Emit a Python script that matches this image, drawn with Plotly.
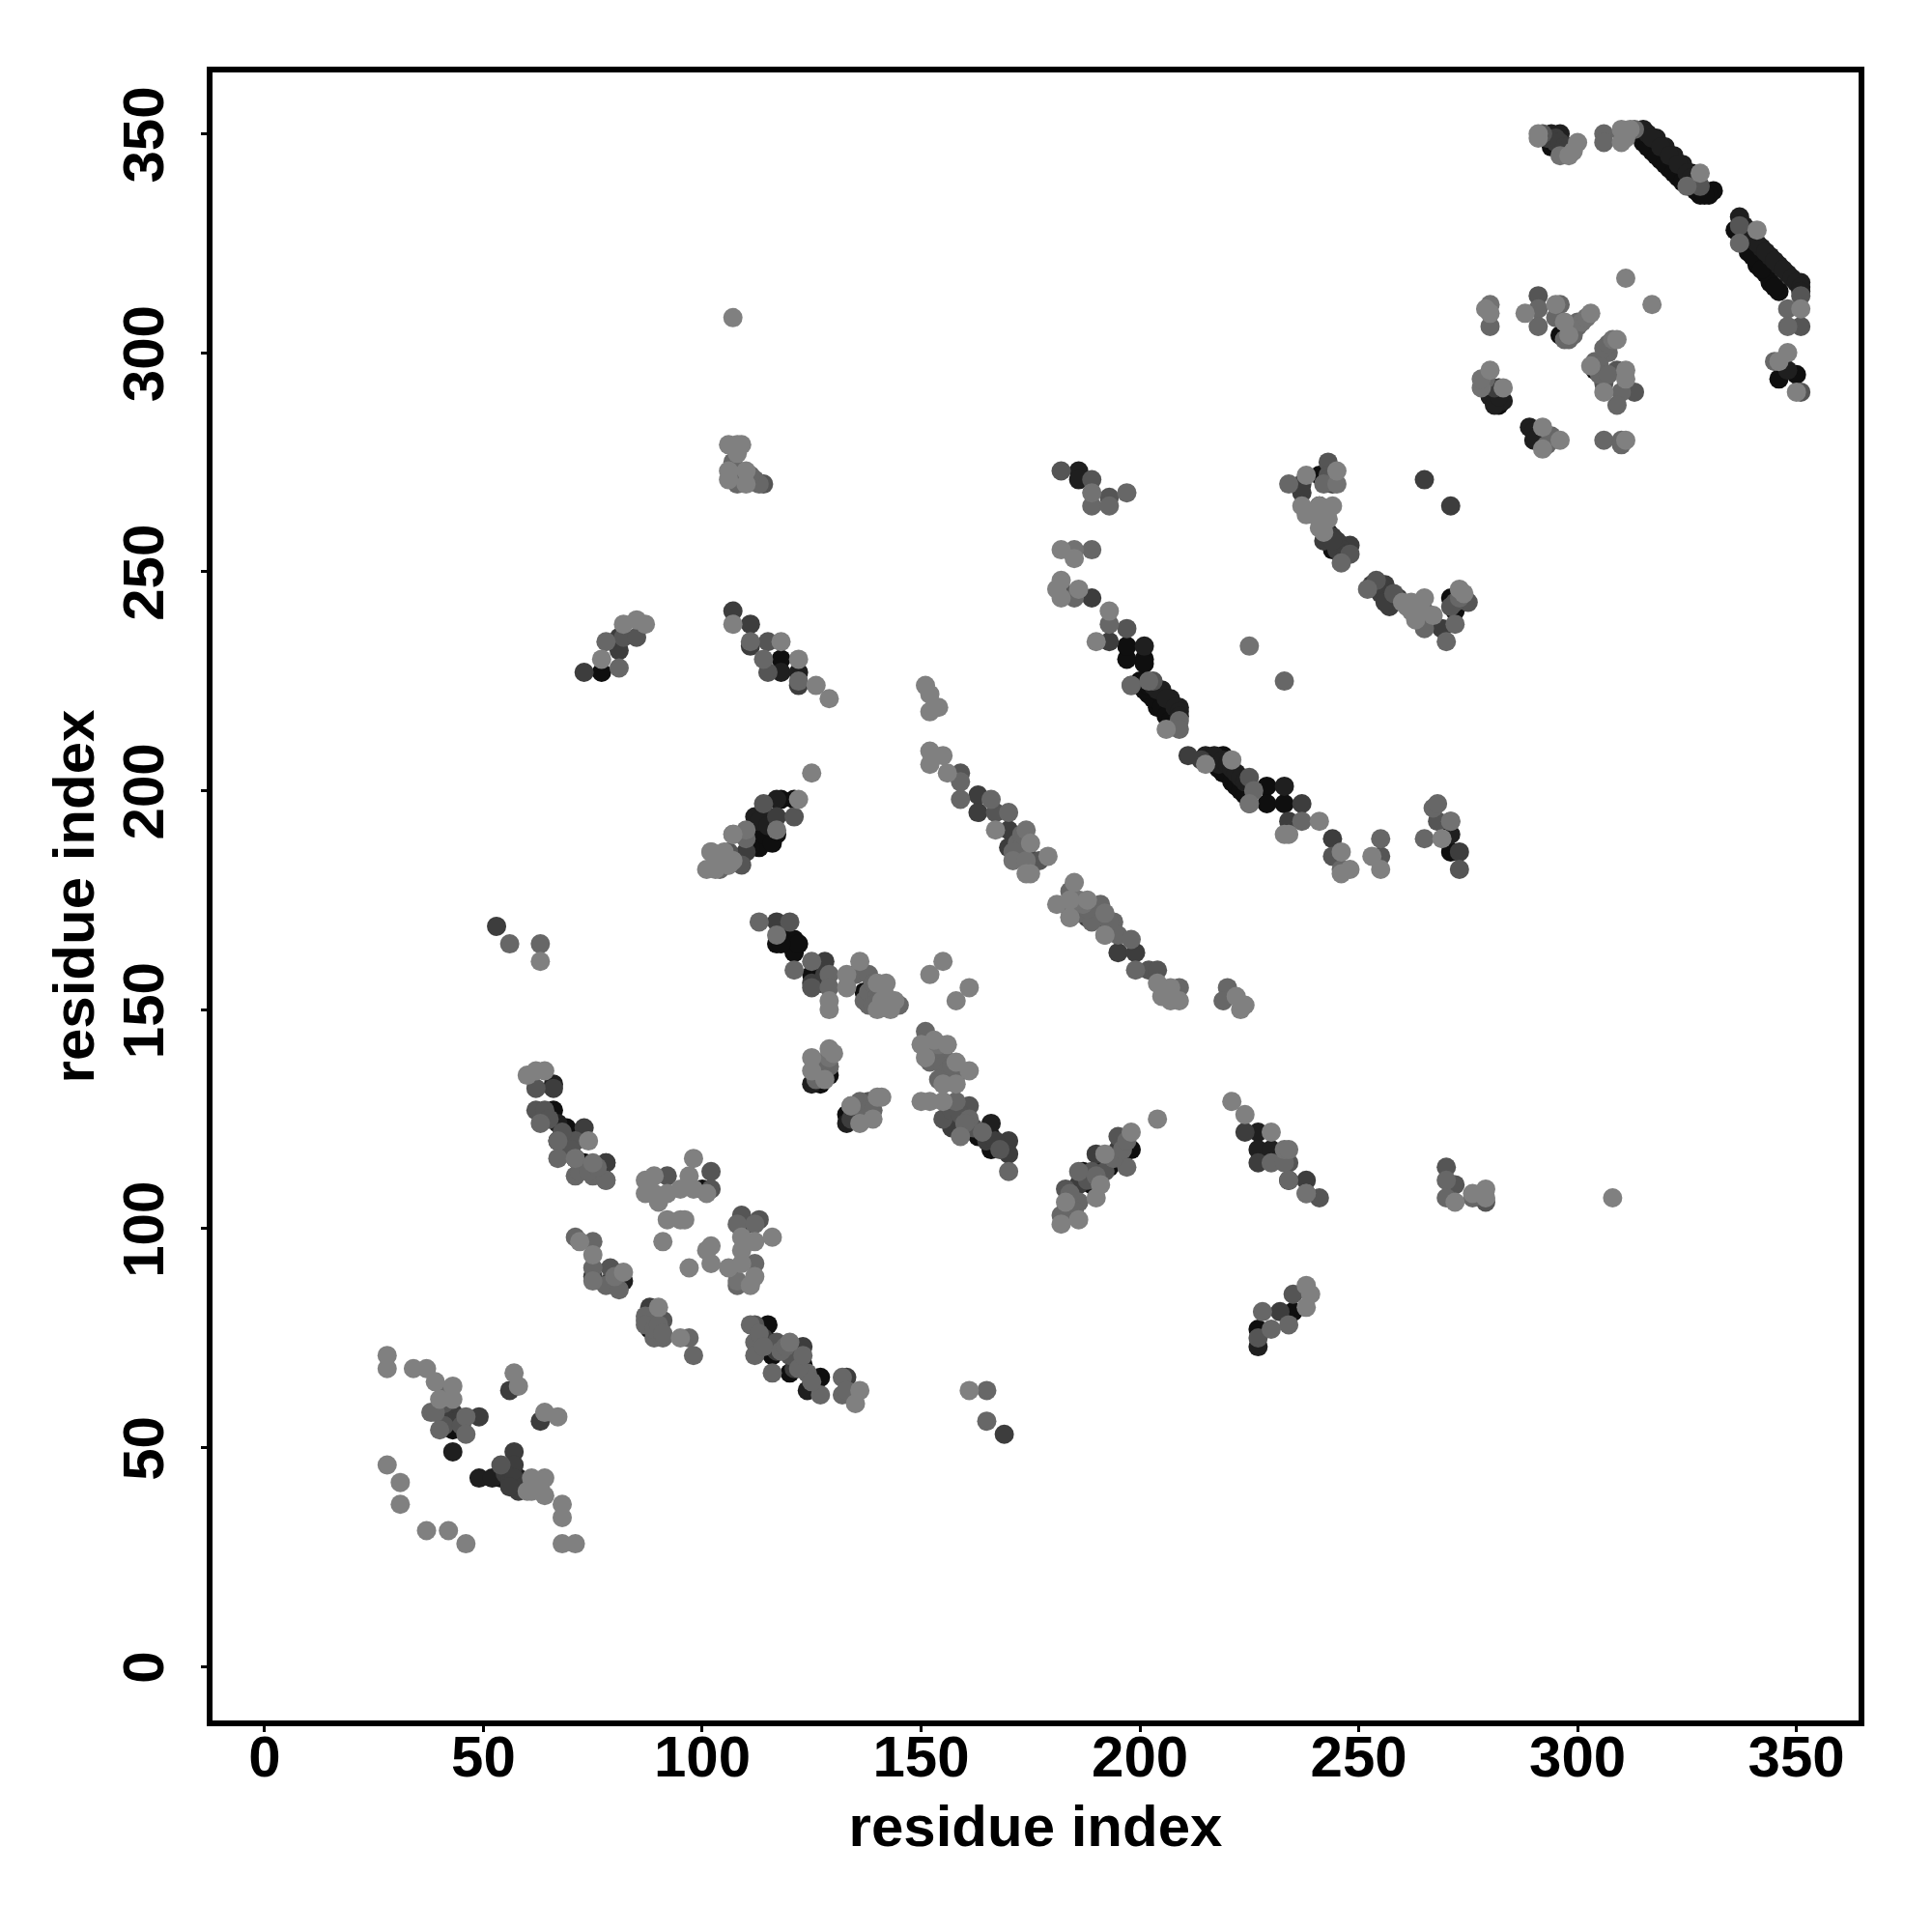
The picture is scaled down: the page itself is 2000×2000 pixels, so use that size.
import plotly.graph_objects as go

tick_values = [0, 50, 100, 150, 200, 250, 300, 350]
axis_title = "residue index"

black = [(43,54),(54,43),(116,74),(116,71),(115,78),(123,69),(120,67),(127,66),(88,77),(66,127),(69,123),(67,120),(71,116),(73,115),(100,109),(109,100),
(129,135),(127,133),(133,126),(136,127),(117,165),(121,166),(121,163),(125,158),(137,154),(158,125),(163,121),(166,121),(166,118),(187,113),(193,114),(189,110),(198,118),
(234,111),(227,77),(235,81),(77,227),(118,230),(118,198),(121,198),(117,190),(113,190),(113,187),(197,230),(201,230),(197,233),(202,222),(204,219),(201,229),(200,225),(206,218),
(219,208),(220,205),(222,203),(224,200),(229,201),(229,197),(233,197),(271,186),(241,272),(244,255),(271,244),(272,241),(296,304),(304,296),(282,292),(282,288),
(294,347),(315,348),(317,346),(319,344),(321,342),(323,340),(326,341),(328,336),(331,337),(330,336),(316,347),(318,345),(320,343),(322,341),(324,339),
(336,328),(337,327),(339,326),(339,323),(341,320),(343,318),(344,316),(346,314),(338,325),(340,322),(342,319),(345,315),(350,295),(346,294),(241,265),(243,259),(246,256),
(326,338),(327,337),(329,336),
(203,221),(205,219),(206,217),(207,216),(208,215),(201,223),(202,224),
(218,205),(219,204),(221,202),(222,201),(223,200),(224,199),
(122,165),(118,168),(118,165),(126,160),(126,157),(127,156),(111,187),(114,190),(116,188)]

near_black = [(43,49),(49,43),(52,43),(58,43),(124,63),(66,133),(67,124),(78,115),(125,133),(133,124),(166,124),(191,114),(227,122),(227,118),(230,118),(118,227),(122,227),
(117,198),(114,195),(201,233),(186,273),(186,271),(205,223),(207,221),(209,219),(216,207),(218,206),(233,201),(271,190),(315,351),(318,349),(320,347),(322,345),(324,343),
(337,331),(342,324),(344,322),(346,320),(348,318),(351,316),(348,296),(296,350),(294,350),(289,283),(292,280),(280,292),(283,289),(227,73),(82,88),
(316,350),(317,349),(319,347),(321,345),(323,343),(325,341),(326,340),(327,339),(328,338),
(338,329),(339,328),(340,326),(341,325),(343,323),(345,321),(347,319),(349,317),(350,316),(351,315),(351,314),
(203,224),(204,223),(206,221),(208,219),(209,218),(209,217),
(215,208),(217,208),(219,207),(220,206),(221,205),(222,204),(223,203),(224,202),(112,194),(113,193),(115,192),
(290,282),(291,281),(290,280),(281,290),(280,290),(281,288),(282,290)]

dark = [(43,58),(49,57),(56,63),(63,56),(57,49),(57,46),(58,40),(123,73),(133,66),(88,82),(66,132),(73,123),(78,115),(79,88),(75,89),(117,170),(128,161),(170,120),(170,117),
(190,117),(195,118),(186,110),(184,173),(188,171),(191,171),(195,163),(199,163),(163,199),(163,195),(170,191),(170,187),(174,186),(224,122),(227,115),(238,111),(232,81),(73,227),(81,232),(81,235),
(111,238),(111,233),(122,224),(107,241),(110,186),(117,194),(193,234),(189,244),(237,270),(237,268),(244,270),(244,258),(242,257),(248,256),(256,247),(255,245),(257,242),(269,237),(234,193),(244,189),(273,186),
(265,271),(271,265),(237,197),(214,207),(211,208),(53,169),(169,53),
(125,156),(128,158),(155,138),(157,123),(165,120),(167,120),(41,57),(42,56),(44,56),(55,44),(56,42),(57,43),(59,41),(56,41),
(245,257),(246,255),(243,258),(245,255),(247,254),(244,257),(253,247),(255,247),(256,245),(257,244),(258,243),(256,243),(259,244),
(293,349),(295,349),(295,348),(296,348),(297,347),(298,347),(114,75),(117,72),(121,68),(135,126),(134,125),(127,135),(281,292),(279,293)]

mid_dark = [(54,46),(112,78),(117,74),(120,71),(91,79),(92,112),(102,113),(102,109),(62,132),(62,127),(71,120),(78,111),(79,91),(109,103),(113,102),(129,137),(138,129),(120,170),(125,155),(161,128),(155,125),
(195,121),(183,109),(186,106),(202,159),(204,159),(235,85),(227,75),(241,107),(270,114),(272,110),(279,106),(82,235),(85,235),(115,234),(115,227),(114,197),(121,194),(109,183),(106,186),
(159,204),(167,195),(177,184),(203,225),(198,224),(182,273),(189,271),(193,267),(197,237),(182,246),(225,203),(225,197),(244,185),(255,185),(268,193),(273,182),(243,275),(248,254),(254,248),(258,245),(275,243),
(291,313),(306,293),(309,296),(313,291),(337,329),(328,338),(351,313),(351,306),(351,291),(292,350),(234,115),
(64,127),(65,125),(68,122),(70,118),(41,60),(41,55),(45,55),(157,127),(159,126),(162,123),(168,118),(188,111),(189,113),(192,113),(114,270),(272,243),(271,242),(243,272),(243,271)]

mid = [(38,58),(39,58),(46,57),(40,54),(46,53),(111,78),(112,74),(112,71),(124,67),(116,67),(127,62),(132,66),(132,62),(133,63),(87,79),(89,75),(91,75),(97,75),(98,71),
(63,124),(67,120),(67,116),(71,112),(75,112),(78,111),(71,98),(75,97),(75,91),(78,87),(81,86),(108,101),(108,87),(112,101),(112,92),(129,137),(136,129),(113,170),(121,159),(125,161),(129,158),(129,155),(135,158),(138,158),(138,151),(145,151),
(151,145),(152,138),(158,135),(158,129),(161,125),(170,113),(186,113),(184,177),(191,174),(194,170),(195,167),(198,166),(199,159),(209,155),(220,155),(219,152),(197,114),(186,106),(182,103),(230,115),(233,115),(234,111),(238,108),
(228,81),(230,77),(234,78),(270,111),(270,107),(276,107),(78,234),(81,228),(111,234),(114,230),(122,225),(110,189),(104,182),(159,198),(159,202),(166,198),(170,195),(198,224),(209,216),(209,214),
(189,255),(193,238),(197,268),(189,265),(193,265),(185,244),(202,225),(226,200),(237,193),(246,182),(255,189),(267,196),(268,197),(265,189),(271,193),(234,270),(242,270),(246,252),(252,246),(265,241),(265,237),(272,238),(270,234),
(280,306),(291,310),(291,306),(296,311),(295,308),(300,307),(300,306),(297,303),(307,300),(310,291),(309,288),(306,280),(310,280),(310,279),(294,280),(306,350),(306,348),(310,350),(313,351),(325,338),(337,325),(348,310),(348,306),(345,298),(56,165),(63,165),(165,63),(165,56),(233,225),
(41,63),(137,152),(138,154),(139,156),(140,153),(141,154),(139,151),(152,141),(153,140),(155,140),(155,137),(156,136),(157,137),(154,134),(160,124),(164,122),(184,108),(185,104),(190,112),(194,116),(196,118),(197,120),
(72,113),(74,113),(76,114),(304,298),(305,297),(306,301),(307,302),(305,295),(307,295),(298,306),(299,305),(298,303),(299,304),(172,188),(173,187),(172,185),(171,186),(173,190),
(87,80),(87,78),(89,77),(90,78),(91,76),(113,76),(114,73),(118,72),(119,73),(122,68),(123,71),(125,65),(137,128),(138,127),(137,125),(139,127),(126,137),(128,138),(126,134),(186,172),(190,172),(189,170),(193,170),(188,173),
(107,275),(107,272),(108,270),(112,271),(113,270),(111,272),(293,279),(294,281),(279,294),(273,244)]

mid_light = [(107,190),(71,116),(75,115),(120,74),(108,88),(75,88),(80,89),(159,121),(134,128),(117,167),(154,142),(174,191),(171,184),(184,175),(238,108),(271,193),(280,311),(278,292),(278,294),(225,233),
(245,270),(225,197),(185,255),(189,268),(117,191),(174,184),(110,191),(184,171),(233,118),(234,118),(192,167),(102,186),(106,183),(129,139),(187,174),(192,172),(186,175),(308,303),(296,345),(301,307),(302,308)]

light = [(28,71),(28,68),(34,68),(37,68),(39,65),(43,64),(40,61),(43,61),(61,43),(64,43),(61,40),(64,39),(68,37),(68,34),(68,28),(71,28),(28,46),(31,42),(31,37),(37,31),(42,31),(46,28),
(57,67),(58,64),(64,58),(67,57),(136,63),(135,60),(90,82),(95,75),(60,135),(62,136),(64,136),(74,120),(87,111),(89,112),(87,108),(89,108),(92,108),(90,106),(98,116),(97,112),(95,109),(98,109),(101,108),
(92,102),(95,102),(96,102),(91,97),(97,91),(102,96),(101,95),(102,92),(116,98),(109,98),(112,97),(109,95),(109,92),(106,91),(112,89),(111,87),(72,97),(75,94),(82,90),
(125,139),(129,141),(130,140),(125,136),(128,134),(136,124),(139,125),(140,130),(141,130),(134,128),
(129,152),(129,150),(133,158),(133,155),(136,161),(140,156),(142,156),(141,152),(143,150),(142,153),(155,161),(152,158),(161,155),(158,152),
(150,142),(153,143),(156,142),(151,139),(158,138),(161,136),(155,133),(158,133),(150,129),(152,129),(155,129),
(181,174),(185,179),(184,175),(188,175),(184,171),(192,167),(204,156),(207,155),(207,152),(209,152),(205,153),(222,153),(224,151),(223,150),(204,125),(198,122),(192,117),(191,110),(190,107),(183,106),(186,102),(182,101),
(221,129),(224,126),(230,122),(238,87),(239,85),(238,82),(272,106),(276,108),(279,109),(279,107),(308,107),
(82,238),(85,239),(87,238),(77,230),(107,238),(118,234),(122,230),(126,224),(129,221),(125,204),(122,198),(107,190),(102,186),(105,186),(101,182),(106,183),
(107,308),(106,279),(109,279),(108,277),(106,273),(110,273),(106,271),(110,270),
(151,224),(152,222),(152,218),(154,219),(152,209),(155,208),(152,206),(156,204),(167,191),(175,188),(179,185),(174,181),(175,181),
(182,255),(185,253),(182,248),(181,246),(182,244),(186,246),(193,241),(190,234),(206,214),(215,206),(221,207),(241,193),(234,190),(246,186),(248,182),(246,181),(253,185),(255,182),(269,189),
(245,273),(238,272),(237,265),(241,265),(244,265),(238,263),(243,262),(241,260),(260,243),(262,243),(265,244),(263,239),(273,246),(274,245),
(280,309),(279,310),(288,309),(295,311),(297,307),(303,309),(298,304),(309,303),(303,297),(311,296),(306,291),(311,294),(311,280),(280,296),(283,292),(292,283),(292,278),(296,280),(311,317),(317,311),
(291,350),(291,349),(300,348),(299,346),(298,345),(310,351),(310,348),(328,341),(341,328),(351,310),(348,300),(346,298),(350,291),(63,161),(161,63),(233,190),
(60,40),(62,42),(63,41),(144,152),(143,152),(140,150),(142,151),(103,182),(103,185),(107,184),(240,263),(242,264),(241,262),(242,259),(261,242),(263,241),(264,242),(262,241),(267,240),
(311,350),(312,351),(311,349),(108,279)]

groups = [
    (black, "#0f0f0f"),
    (near_black, "#1f1f1f"),
    (dark, "#3d3d3d"),
    (mid_dark, "#555555"),
    (mid, "#676767"),
    (mid_light, "#727272"),
    (light, "#808080"),
]

fig = go.Figure()
for pts, color in groups:
    fig.add_trace(go.Scatter(
        x=[p[0] for p in pts], y=[p[1] for p in pts], mode="markers",
        marker=dict(size=20, color=color, line=dict(width=0)),
        showlegend=False, hoverinfo="skip",
    ))

font = dict(family="Liberation Sans", size=60, color="black", weight="bold")
axis = dict(
    tickmode="array", tickvals=tick_values, ticktext=[str(v) for v in tick_values],
    ticks="outside", ticklen=6, tickwidth=3, tickcolor="black",
    showline=True, linewidth=6, linecolor="black", mirror=True,
    showgrid=False, zeroline=False, tickfont=font,
)
fig.update_layout(
    width=2000, height=2000, autosize=False,
    paper_bgcolor="white", plot_bgcolor="white",
    margin=dict(l=220, r=76, t=75, b=219, pad=0),
    xaxis=dict(range=[-11.9, 364.2], ticklabelstandoff=-26,
               title=dict(text=axis_title, font=font, standoff=20), **axis),
    yaxis=dict(range=[-12.35, 364.0], tickangle=-90, ticklabelstandoff=15, ticklabelshift=10,
               title=dict(text=axis_title, font=font, standoff=0), **axis),
)
fig.write_html("out.html", config={"displayModeBar": False},
               post_script="document.body.style.margin='0';document.body.style.overflow='hidden';")
